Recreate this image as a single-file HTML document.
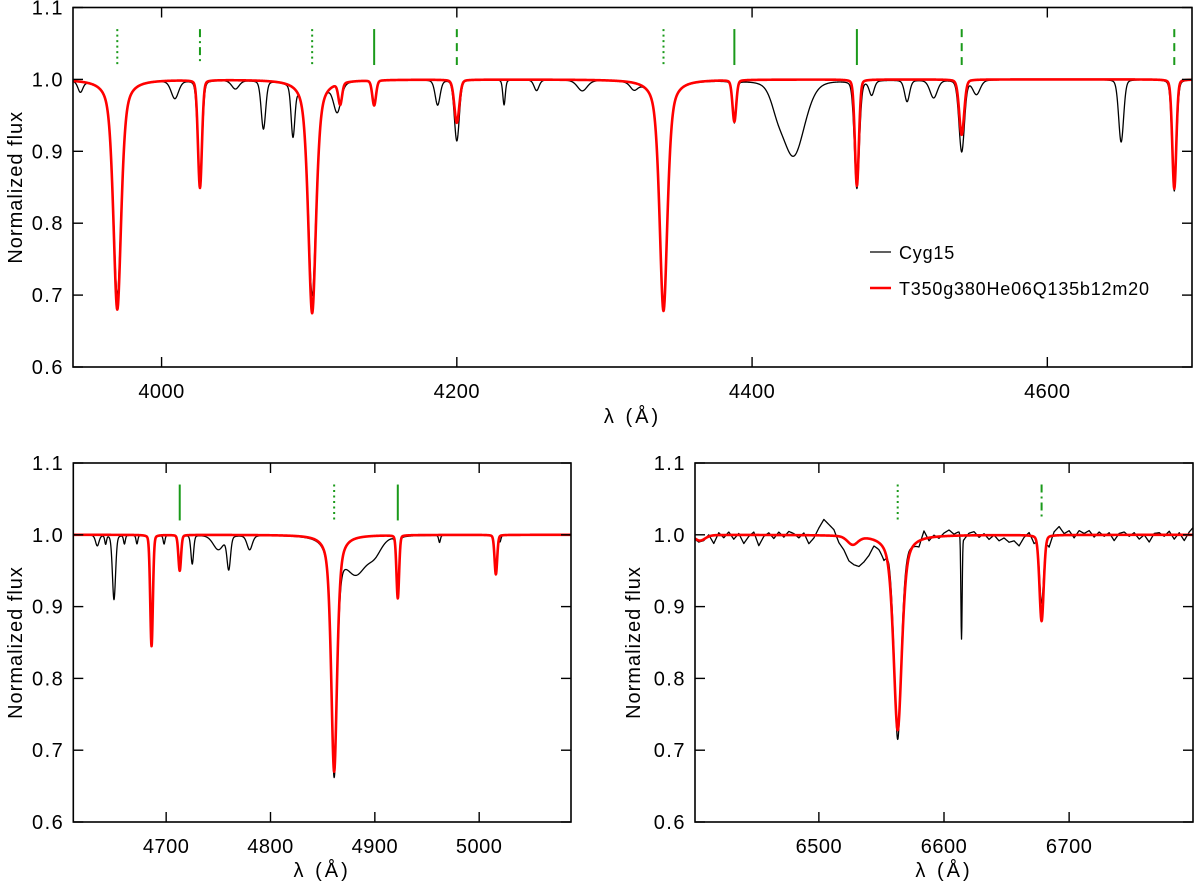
<!DOCTYPE html>
<html><head><meta charset="utf-8"><style>
body{margin:0;background:#fff}
svg{display:block;font-family:"Liberation Sans",sans-serif}
</style></head><body>
<svg id="fig" width="1200" height="891" viewBox="0 0 1200 891"></svg>
<script>
// ---- data ----
// line lists: [center Å, depth, half-width Å, lorentz fraction]
const topModelLines=[[3970,.32,3.2,.6],[4026,.15,1.6,.15],[4102,.325,3.2,.6],[4121,.03,1.5,.2],[4144,.035,1.5,.2],[4200,.06,2,.2],[4340,.322,3.2,.6],[4388,.058,1.5,.2],[4471,.148,1.6,.15],[4542,.077,2,.2],[4686,.152,1.6,.15]];
const topObsLines=[[3945,.015,2,.3],[3970,.30,3.2,.6],[4009,.025,3,.3],[4026,.15,1.8,.2],[4050,.012,3,.3],[4069,.067,1.8,.2],[4089,.07,1.5,.2],[4102,.30,3.2,.6],[4119,.04,3,.3],[4144,.035,1.5,.2],[4187,.035,2,.3],[4200,.085,2,.2],[4232,.035,1,.3],[4254,.015,2,.3],[4285,.015,4,.3],[4320,.01,3,.3],[4340,.32,3.2,.6],[4388,.058,1.5,.2],[4417,.02,5,.3],[4428,.105,9,.3],[4471,.15,2,.2],[4481,.02,2,.3],[4505,.03,2,.3],[4523,.025,3,.3],[4542,.10,2.2,.2],[4552,.02,3,.3],[4650,.087,2,.2],[4686,.155,1.8,.2]];
const blModelLines=[[4686,.155,1.5,.15],[4713,.05,1.5,.2],[4861,.33,3.4,.6],[4922,.088,1.5,.15],[5016,.055,1.5,.2]];
const blObsLines=[[4634,.015,2,.3],[4642,.012,1,.3],[4650,.09,1.8,.2],[4660,.012,1,.3],[4672,.012,1,.3],[4686,.15,1.5,.2],[4698,.012,1,.3],[4713,.05,1.5,.2],[4725,.04,1.5,.2],[4750,.02,6,.3],[4760,.045,2,.2],[4780,.02,3,.3],[4861,.33,3.4,.6],[4882,.05,12,.3],[4900,.02,8,.3],[4922,.085,1.5,.2],[4962,.01,1,.3],[5016,.055,1.5,.2],[5020,.008,1,.3]];
const brModelLines=[[6405,.008,5,.3],[6527,.012,5,.3],[6563,.272,4,.6],[6678,.12,2,.2]];
const brObsLines=[[6563,.285,3.5,.6],[6614,.145,0.6,.1],[6678,.095,2,.2]];
const brObsResidStart=6400, brObsResidStep=4;
const brObsResid=[-.005,-.01,-.008,0,-.012,.003,-.004,.004,-.006,.002,-.012,-.002,.004,-.015,-.002,.003,-.005,.004,-.003,.005,.002,-.004,.003,-.012,-.004,.01,.022,.015,.008,-.01,-.02,-.035,-.04,-.042,-.035,-.025,-.01,-.012,-.02,0,0,0,0,0,-.005,-.01,.01,-.005,.002,-.003,.004,.008,.002,.006,-.005,.003,.005,-.003,.002,-.006,0,-.008,-.004,-.01,-.008,-.015,-.003,.004,-.01,0,0,-.015,.005,.012,.002,.006,-.004,.006,.002,.006,-.003,.004,-.002,.003,-.008,.002,.004,-.002,.003,-.006,0,-.01,.002,.003,-.002,.005,-.006,.003,-.008,.004,.012];
// line marker ids: [wavelength, style]
const topMarks=[[3970,'dot'],[4026,'dashdot'],[4102,'dot'],[4144,'solid'],[4200,'dash'],[4340,'dot'],[4388,'solid'],[4471,'solid'],[4542,'dash'],[4686,'dash']];
const blMarks=[[4713,'solid'],[4861,'dot'],[4922,'solid']];
const brMarks=[[6563,'dot'],[6678,'dashdot']];
const yTicks=[0.6,0.7,0.8,0.9,1.0,1.1];
const topXTicks=[4000,4200,4400,4600];
const blXTicks=[4700,4800,4900,5000];
const brXTicks=[6500,6600,6700];
const legendLabels=['Cyg15','T350g380He06Q135b12m20'];

// ---- drawing ----
const NS='http://www.w3.org/2000/svg';
const svg=document.getElementById('fig');
function mk(tag,attrs,parent){const e=document.createElementNS(NS,tag);for(const k in attrs)e.setAttribute(k,attrs[k]);(parent||svg).appendChild(e);return e;}
function flux(lines,x,resid,rs,rstep){let f=1;for(const[c,d,w,eta] of lines){const u=(x-c)/w;f-=d*(eta/(1+u*u)+(1-eta)*Math.exp(-0.6931*u*u));}
 if(resid){const t=(x-rs)/rstep;const i=Math.floor(t);if(i>=0&&i<resid.length-1){const a=t-i;f+=resid[i]*(1-a)+resid[i+1]*a;}}return f;}
function panel(p){
 const g=mk('g',{});
 
 
 const sx=v=>p.x0+(v-p.xmin)/(p.xmax-p.xmin)*(p.x1-p.x0);
 const sy=v=>p.y1-(v-0.6)/0.5*(p.y1-p.y0);
 const clipId=p.name+'-clip';
 const cp=mk('clipPath',{id:clipId},g);mk('rect',{x:p.x0,y:p.y0,width:p.x1-p.x0,height:p.y1-p.y0},cp);
 const series=[[p.obs,'#000',1.3,'observed-spectrum'],[p.model,'#f00',2.6,'model-spectrum']];
 for(const[ser,col,w,nm] of series){let d='';for(let x=p.xmin;x<=p.xmax;x+=0.25){d+=(d?'L':'M')+sx(x).toFixed(2)+','+sy(ser(x)).toFixed(2);}
  const path=mk('path',{d:d,fill:'none',stroke:col,'stroke-width':w,'clip-path':'url(#'+clipId+')','stroke-linejoin':'round'},g);
  
  }
 const dash={dot:'2,3.5',dash:'8,6',dashdot:'8,4,2,4',solid:'none'};
 for(const[w,s] of p.marks){const l=mk('line',{x1:sx(w),x2:sx(w),y1:sy(1.07),y2:sy(1.02),stroke:'#1a9a1a','stroke-width':2,'stroke-dasharray':dash[s]},g);
  
  }
 const fr=mk('rect',{x:p.x0,y:p.y0,width:p.x1-p.x0,height:p.y1-p.y0,fill:'none',stroke:'#000','stroke-width':1.6},g);
 
 
 for(const v of yTicks){const y=sy(v);
  mk('line',{x1:p.x0,x2:p.x0+10,y1:y,y2:y,stroke:'#000','stroke-width':1.4},g);
  mk('line',{x1:p.x1,x2:p.x1-10,y1:y,y2:y,stroke:'#000','stroke-width':1.4},g);
  const t=mk('text',{x:p.x0-9,y:y+7,'text-anchor':'end','font-size':20,'letter-spacing':1.5},g);t.textContent=v.toFixed(1);
  
  }
 for(const v of p.xticks){const x=sx(v);
  mk('line',{x1:x,x2:x,y1:p.y1,y2:p.y1-10,stroke:'#000','stroke-width':1.4},g);
  mk('line',{x1:x,x2:x,y1:p.y0,y2:p.y0+10,stroke:'#000','stroke-width':1.4},g);
  const t=mk('text',{x:x,y:p.y1+31,'text-anchor':'middle','font-size':20,'letter-spacing':0.5},g);t.textContent=v;
  
  }
 const xt=mk('text',{x:(p.x0+p.x1)/2,y:p.y1+p.xtOff,'text-anchor':'middle','font-size':20,'letter-spacing':3},g);xt.textContent='λ (Å)';
 
 
 const cy=(p.y0+p.y1)/2;
 const yt=mk('text',{x:p.ytx,y:cy,'text-anchor':'middle','font-size':20,'letter-spacing':1,transform:'rotate(-90 '+p.ytx+' '+cy+')'},g);yt.textContent='Normalized  flux';
 
 
}
panel({name:'top-panel',x0:73,x1:1192,y0:7.5,y1:367,xmin:3940,xmax:4698,xticks:topXTicks,marks:topMarks,xtOff:56,ytx:22,
 obs:x=>flux(topObsLines,x),model:x=>flux(topModelLines,x)});
panel({name:'bottom-left-panel',x0:73.3,x1:571,y0:463,y1:822,xmin:4611,xmax:5088,xticks:blXTicks,marks:blMarks,xtOff:55,ytx:22,
 obs:x=>flux(blObsLines,x),model:x=>flux(blModelLines,x)});
panel({name:'bottom-right-panel',x0:695,x1:1193,y0:463,y1:822,xmin:6401,xmax:6799,xticks:brXTicks,marks:brMarks,xtOff:55,ytx:640,
 obs:x=>flux(brObsLines,x,brObsResid,brObsResidStart,brObsResidStep),model:x=>flux(brModelLines,x)});
// legend
const lg=mk('g',{});


const legCols=['#000','#f00'],legW=[1.3,2.6],legY=[252,288];
for(let i=0;i<2;i++){mk('line',{x1:870,x2:891,y1:legY[i],y2:legY[i],stroke:legCols[i],'stroke-width':legW[i]},lg);
 const t=mk('text',{x:899,y:legY[i]+7,'font-size':18,'letter-spacing':0.8},lg);t.textContent=legendLabels[i];
 
 }
</script>
</body></html>
